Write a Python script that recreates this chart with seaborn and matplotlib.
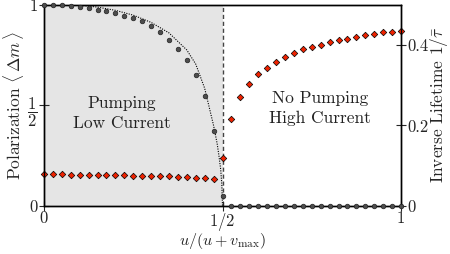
import numpy as np
import pandas as pd
import matplotlib
matplotlib.use("Agg")
import matplotlib.pyplot as plt
import seaborn as sns

sns.set_style("ticks")
plt.rcParams['font.family'] = ['cmr10', 'DejaVu Serif']
plt.rcParams['mathtext.fontset'] = 'cm'
plt.rcParams['axes.formatter.use_mathtext'] = True

# ---- data ----
x_left = [0.0, 0.025, 0.05, 0.075, 0.1, 0.125, 0.15, 0.175, 0.2, 0.225, 0.25,
          0.275, 0.3, 0.325, 0.35, 0.375, 0.4, 0.425, 0.45, 0.475, 0.5]
pol_left = [1.0, 0.999, 0.997, 0.994, 0.99, 0.984, 0.976, 0.967, 0.957, 0.946,
            0.934, 0.917, 0.895, 0.864, 0.827, 0.782, 0.725, 0.652, 0.545, 0.375, 0.05]
x_right = [0.525, 0.55, 0.575, 0.6, 0.625, 0.65, 0.675, 0.7, 0.725, 0.75,
           0.775, 0.8, 0.825, 0.85, 0.875, 0.9, 0.925, 0.95, 0.975, 1.0]
pol_right = [0.0] * 20

inv_left = [0.080, 0.079, 0.079, 0.078, 0.077, 0.077, 0.077, 0.077, 0.076, 0.076,
            0.075, 0.0745, 0.0745, 0.074, 0.074, 0.073, 0.071, 0.070, 0.0695, 0.066, 0.119]
inv_right = [0.216, 0.270, 0.304, 0.327, 0.344, 0.358, 0.371, 0.380, 0.389, 0.396,
             0.401, 0.407, 0.412, 0.416, 0.421, 0.424, 0.427, 0.431, 0.433, 0.435]

curve_x = [0.0, 0.05, 0.1, 0.15, 0.2, 0.25, 0.3, 0.35, 0.4, 0.425, 0.45,
           0.475, 0.485, 0.49, 0.495, 0.498, 0.5]
curve_y = [1.0, 1.0, 0.997, 0.988, 0.972, 0.948, 0.912, 0.86, 0.775, 0.705, 0.585,
           0.40, 0.31, 0.25, 0.18, 0.11, 0.0]

xticks = [0, 0.5, 1]
xticklabels = ['0', '$1/2$', '1']
lyticks = [0, 0.5, 1]
lyticklabels = ['0', r'$\dfrac{1}{2}$', '1']
ryticks = [0, 0.2, 0.4]
ryticklabels = ['0', '0.2', '0.4']

df_pol = pd.DataFrame({'x': x_left + x_right, 'pol': pol_left + pol_right})
df_inv = pd.DataFrame({'x': x_left + x_right, 'inv': inv_left + inv_right})
df_curve = pd.DataFrame({'x': curve_x, 'y': curve_y})

fig = plt.figure(figsize=(4.5, 2.54), dpi=100)
ax = fig.add_axes([44/450, 1-206/254, (401-44)/450, (206-4.7)/254])
ax2 = ax.twinx()

# background shading and divider on the lower (twin) axes
ax2.axvspan(0, 0.5, color='#e5e5e5', zorder=0, lw=0)
ax2.axvline(0.5, color='#444444', ls=(0, (3, 2)), lw=1.0, zorder=1)

sns.scatterplot(data=df_inv, x='x', y='inv', ax=ax2, color='#ee2200', edgecolor='black',
                marker='D', s=11, linewidth=0.5, zorder=5, clip_on=False)
ax2.set_xlim(0, 1)
ax2.set_ylim(0, 0.5)
ax2.set_yticks(ryticks)
ax2.set_yticklabels(ryticklabels)
ax2.set_ylabel(r'Inverse Lifetime $1/\bar{\tau}$', fontsize=12.5, labelpad=0)
ax2.tick_params(direction='inout', length=7, width=0.8, labelsize=12, pad=1)

sns.lineplot(data=df_curve, x='x', y='y', ax=ax, color='black', lw=0.8,
             linestyle=(0, (1, 1.2)), zorder=2, sort=False)
sns.scatterplot(data=df_pol, x='x', y='pol', ax=ax, color='#4d4d4d', edgecolor='#222222',
                s=11, linewidth=0.5, zorder=4, clip_on=False)

ax.set_xlim(0, 1)
ax.set_ylim(0, 1)
ax.set_xticks(xticks)
ax.set_xticklabels(xticklabels)
ax.set_yticks(lyticks)
ax.set_yticklabels(lyticklabels)
ax.set_xlabel(r'$u/(u+v_{\max})$', fontsize=11.5, labelpad=-1)
ax.set_ylabel(r'Polarization $\langle\,\Delta m\,\rangle$', fontsize=12.5, labelpad=1)
ax.tick_params(direction='inout', length=7, width=0.8, labelsize=12, pad=1)
ax.tick_params(axis='x', pad=0)

for a in (ax, ax2):
    for s in a.spines.values():
        s.set_visible(True)
        s.set_linewidth(1.0)
        s.set_color('black')

ax.set_zorder(ax2.get_zorder() + 1)
ax.patch.set_visible(False)

ax.text(0.218, 0.46, 'Pumping\nLow Current', ha='center', va='center',
        fontsize=12.5, linespacing=1.35, color='#222222')
ax.text(0.773, 0.485, 'No Pumping\nHigh Current', ha='center', va='center',
        fontsize=12.5, linespacing=1.35, color='#222222')

fig.savefig('out.png', dpi=100)
